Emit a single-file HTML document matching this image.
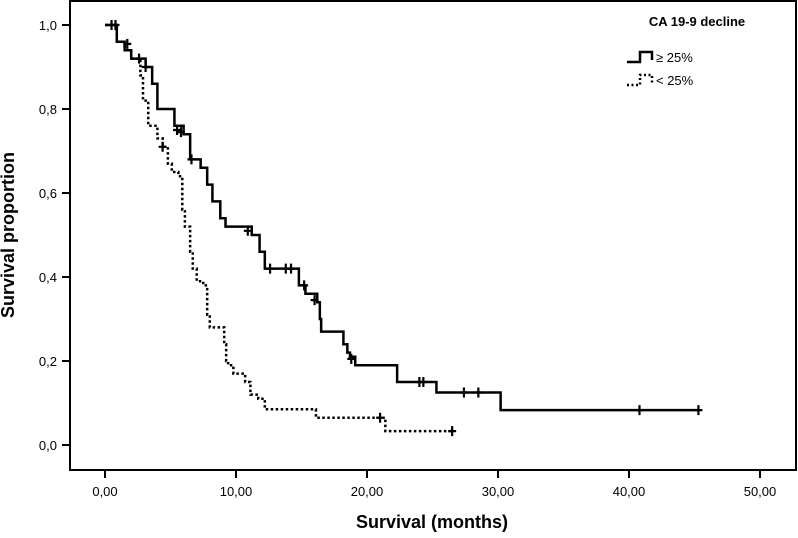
<!DOCTYPE html>
<html><head><meta charset="utf-8"><style>
body{margin:0;background:#fff}
svg{display:block;font-family:"Liberation Sans",Arial,sans-serif}
</style></head><body>
<svg width="798" height="538" viewBox="0 0 798 538">
<rect x="70" y="1" width="726" height="469" fill="none" stroke="#000" stroke-width="2"/>
<g id="axes"></g>
<g id="series"></g>
<text x="14" y="235" transform="rotate(-90 14 235)" text-anchor="middle" font-weight="bold" font-size="18">Survival proportion</text>
<text x="432" y="528" text-anchor="middle" font-weight="bold" font-size="18">Survival (months)</text>
<g>
<text x="697" y="26" text-anchor="middle" font-weight="bold" font-size="13">CA 19-9 decline</text>
<path d="M627,62 H640 V52 H652 V60" fill="none" stroke="#000" stroke-width="2.5"/>
<text x="656" y="62" font-size="13">≥ 25%</text>
<path d="M627,85 H640 V75 H652 V83" fill="none" stroke="#000" stroke-width="2.5" stroke-dasharray="2,2.5"/>
<text x="656" y="85" font-size="13">&lt; 25%</text>
</g>
</svg>
<script>
const xTicks=[0,10,20,30,40,50];
const xTickLabels=["0,00","10,00","20,00","30,00","40,00","50,00"];
const yTicks=[0,0.2,0.4,0.6,0.8,1.0];
const yTickLabels=["0,0","0,2","0,4","0,6","0,8","1,0"];
const solidTimes=[0,0.9,1.5,2,3.1,3.6,4.0,5.3,6,6.5,7.3,7.8,8.2,8.8,9.2,11.2,11.8,12.2,14.8,15.3,16.2,16.4,16.5,18.2,18.5,18.7,19.1,22.3,25.3,30.2];
const solidSurv=[1,0.96,0.94,0.92,0.9,0.86,0.8,0.76,0.74,0.68,0.66,0.62,0.58,0.54,0.52,0.5,0.46,0.42,0.38,0.36,0.34,0.3,0.27,0.24,0.22,0.21,0.19,0.15,0.125,0.083];
const solidEnd=45.3;
const solidCensT=[0.5,0.8,1.7,2.6,3.1,5.5,5.8,6.6,10.9,12.6,13.8,14.2,15.2,16.0,18.8,24.0,24.3,27.4,28.5,40.8,45.3];
const solidCensS=[1,1,0.955,0.92,0.9,0.75,0.745,0.68,0.51,0.42,0.42,0.42,0.38,0.345,0.205,0.15,0.15,0.125,0.125,0.083,0.083];
const dotTimes=[0,0.9,1.5,2,2.7,2.9,3.3,4.0,4.4,4.8,5.1,5.6,5.9,6.1,6.5,6.7,7.0,7.5,7.8,8.0,9.1,9.25,9.4,9.8,10.7,11.1,11.7,12.2,16.1,21.4];
const dotSurv=[1,0.96,0.94,0.92,0.88,0.82,0.76,0.73,0.71,0.67,0.65,0.64,0.56,0.52,0.46,0.42,0.39,0.38,0.31,0.28,0.24,0.2,0.19,0.17,0.15,0.12,0.11,0.085,0.065,0.033];
const dotEnd=26.5;
const dotCensT=[4.4,21.0,26.5];
const dotCensS=[0.71,0.065,0.033];

const NS="http://www.w3.org/2000/svg";
function X(t){return 105+13.1*t;}
function Y(v){return 445-420*v;}
function mk(tag,attrs,parent){const e=document.createElementNS(NS,tag);for(const k in attrs)e.setAttribute(k,attrs[k]);parent.appendChild(e);return e;}
const axes=document.getElementById('axes'), series=document.getElementById('series');
xTicks.forEach((t,i)=>{
  const l=mk('line',{x1:X(t),x2:X(t),y1:470,y2:478,stroke:'#000','stroke-width':2},axes);
  
  
  const tx=mk('text',{x:X(t),y:496,'text-anchor':'middle','font-size':13},axes);
  tx.textContent=xTickLabels[i];
  
  
});
yTicks.forEach((v,i)=>{
  const l=mk('line',{x1:62,x2:70,y1:Y(v),y2:Y(v),stroke:'#000','stroke-width':2},axes);
  
  
  const tx=mk('text',{x:57,y:Y(v)+5,'text-anchor':'end','font-size':13},axes);
  tx.textContent=yTickLabels[i];
  
  
});
function step(times,surv,end){
  let d='M'+X(times[0])+','+Y(surv[0]);
  for(let i=1;i<times.length;i++){d+=' H'+X(times[i])+' V'+Y(surv[i]);}
  d+=' H'+X(end);return d;
}
const dd=mk('path',{d:step(dotTimes,dotSurv,dotEnd),fill:'none',stroke:'#000','stroke-width':2.5,'stroke-dasharray':'2.5,2.5'},series);


const s=mk('path',{d:step(solidTimes,solidSurv,solidEnd),fill:'none',stroke:'#000','stroke-width':2.5},series);


function cens(ts,ss,name){
  ts.forEach((t,i)=>{
    const p=mk('path',{d:'M'+(X(t)-4)+','+Y(ss[i])+' H'+(X(t)+4)+' M'+X(t)+','+(Y(ss[i])-5)+' V'+(Y(ss[i])+5),stroke:'#000','stroke-width':2.2,fill:'none'},series);
    
    
  });
}
cens(solidCensT,solidCensS,'censor-mark-ge25');
cens(dotCensT,dotCensS,'censor-mark-lt25');
</script>
</body></html>
